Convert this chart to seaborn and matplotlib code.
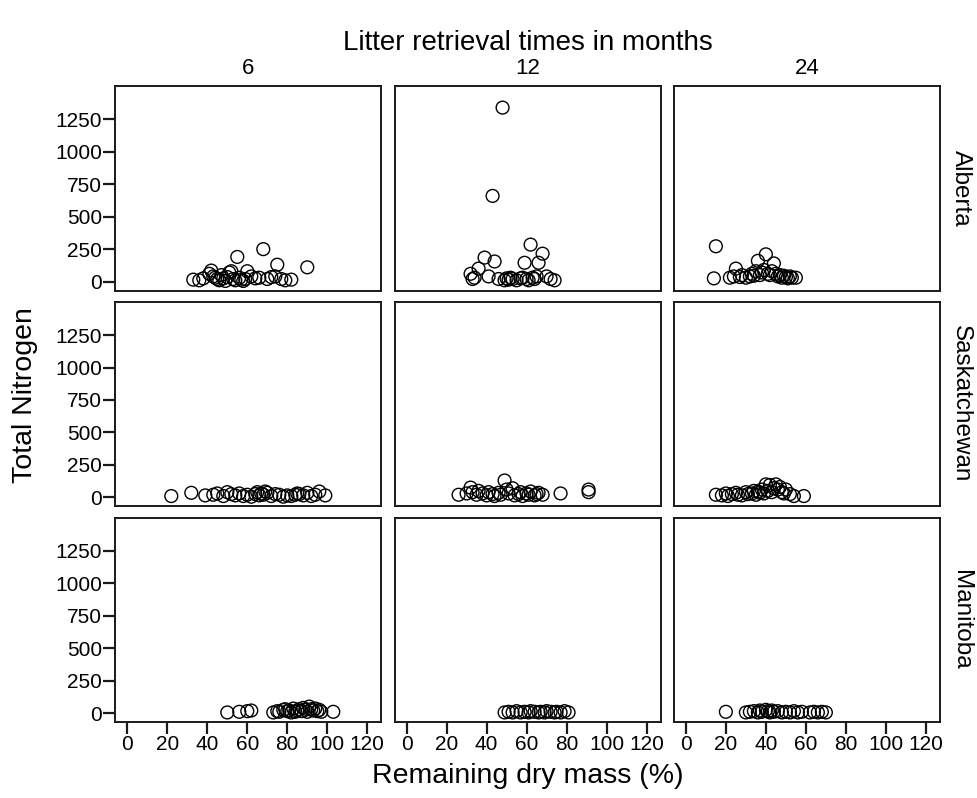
import matplotlib
matplotlib.use("Agg")
import matplotlib.pyplot as plt
import numpy as np
import pandas as pd
import seaborn as sns

provinces = ["Alberta", "Saskatchewan", "Manitoba"]
months = ["6", "12", "24"]
x_ticks = [0, 20, 40, 60, 80, 100, 120]
y_ticks = [0, 250, 500, 750, 1000, 1250]

ab6_mass = [33, 36, 38, 41, 42, 43, 44, 45, 46, 47, 48, 49, 50, 51, 52, 53, 54, 55, 56, 57,
            58, 59, 60, 62, 64, 66, 68, 70, 72, 74, 75, 77, 79, 82, 90]
ab6_n = [15, 10, 25, 60, 85, 40, 30, 20, 10, 50, 25, 5, 35, 70, 80, 20, 10, 190, 30, 15,
         5, 20, 80, 40, 25, 30, 250, 20, 35, 40, 130, 20, 10, 15, 110]

ab12_mass = [32, 33, 34, 36, 39, 41, 43, 44, 46, 48, 49, 50, 51, 52, 53, 55, 57, 58, 59, 60,
             61, 62, 63, 64, 65, 66, 68, 70, 72, 74]
ab12_n = [60, 20, 30, 100, 185, 40, 660, 155, 20, 1340, 10, 25, 15, 30, 20, 10, 25, 30, 145, 20,
          10, 285, 30, 20, 40, 145, 215, 40, 20, 10]

ab24_mass = [14, 15, 22, 24, 25, 27, 28, 30, 32, 33, 34, 35, 36, 37, 38, 39, 40, 41, 42, 43,
             44, 45, 46, 47, 48, 49, 50, 51, 52, 53, 55]
ab24_n = [25, 272, 30, 40, 100, 35, 50, 30, 40, 60, 45, 80, 160, 50, 70, 90, 210, 60, 50, 80,
          140, 60, 40, 50, 30, 45, 35, 25, 40, 30, 30]

sk6_mass = [22, 32, 39, 43, 45, 48, 50, 52, 54, 56, 58, 60, 62, 64, 65, 66, 67, 68, 69, 70,
            72, 74, 76, 78, 80, 82, 84, 85, 86, 88, 90, 92, 94, 96, 99]
sk6_n = [10, 35, 15, 20, 30, 10, 40, 25, 15, 30, 10, 20, 5, 25, 40, 15, 30, 20, 45, 35,
         10, 25, 20, 5, 15, 10, 20, 30, 25, 15, 35, 10, 20, 45, 15]

sk12_mass = [26, 30, 32, 33, 35, 36, 38, 40, 41, 43, 44, 46, 47, 49, 50, 51, 53, 54, 56, 57,
             58, 60, 61, 62, 64, 65, 66, 68, 77, 91, 91]
sk12_n = [20, 30, 75, 40, 20, 50, 30, 15, 40, 25, 10, 35, 20, 130, 60, 30, 70, 15, 25, 40,
          10, 30, 20, 45, 15, 25, 35, 20, 30, 40, 60]

sk24_mass = [15, 18, 20, 21, 23, 25, 26, 28, 30, 31, 33, 34, 35, 36, 37, 38, 39, 40, 41, 42,
             43, 44, 45, 46, 47, 48, 49, 50, 52, 54, 59]
sk24_n = [20, 15, 30, 10, 25, 35, 20, 15, 40, 25, 30, 50, 20, 45, 35, 60, 30, 100, 50, 95,
          40, 70, 100, 60, 80, 40, 30, 60, 25, 10, 10]

mb6_mass = [50, 56, 60, 62, 73, 75, 76, 78, 79, 80, 81, 82, 83, 84, 85, 86, 87, 88, 89, 90,
            91, 92, 93, 94, 95, 96, 97, 103]
mb6_n = [5, 10, 15, 20, 5, 15, 10, 25, 30, 15, 20, 5, 35, 10, 20, 30, 15, 40, 25, 10,
         50, 30, 20, 35, 15, 25, 10, 10]

mb12_mass = [49, 51, 53, 55, 57, 59, 61, 62, 64, 66, 67, 69, 70, 72, 74, 75, 77, 79, 81]
mb12_n = [5, 10, 5, 15, 5, 10, 5, 15, 10, 5, 10, 5, 15, 10, 5, 10, 5, 15, 5]

mb24_mass = [20, 30, 32, 34, 36, 37, 38, 40, 41, 42, 43, 44, 46, 48, 50, 52, 54, 56, 58, 62,
             64, 66, 68, 70]
mb24_n = [10, 5, 10, 15, 5, 20, 10, 25, 15, 5, 20, 10, 15, 5, 10, 5, 15, 5, 10, 5,
          10, 5, 10, 5]

panels = {
    ("Alberta", "6"): (ab6_mass, ab6_n),
    ("Alberta", "12"): (ab12_mass, ab12_n),
    ("Alberta", "24"): (ab24_mass, ab24_n),
    ("Saskatchewan", "6"): (sk6_mass, sk6_n),
    ("Saskatchewan", "12"): (sk12_mass, sk12_n),
    ("Saskatchewan", "24"): (sk24_mass, sk24_n),
    ("Manitoba", "6"): (mb6_mass, mb6_n),
    ("Manitoba", "12"): (mb12_mass, mb12_n),
    ("Manitoba", "24"): (mb24_mass, mb24_n),
}

records = []
for (prov, mon), (xs, ys) in panels.items():
    for xv, yv in zip(xs, ys):
        records.append({"province": prov, "month": mon, "mass": xv, "nitrogen": yv})
df = pd.DataFrame(records)

sns.set_style("ticks")
plt.rcParams["font.family"] = ["Liberation Sans", "DejaVu Sans"]
plt.rcParams["text.color"] = "black"
plt.rcParams["axes.edgecolor"] = "#1a1a1a"
plt.rcParams["axes.linewidth"] = 1.4
plt.rcParams["xtick.color"] = "#1a1a1a"
plt.rcParams["ytick.color"] = "#1a1a1a"

g = sns.FacetGrid(df, row="province", col="month", row_order=provinces, col_order=months,
                  margin_titles=True, despine=False, sharex=True, sharey=True,
                  height=2.6, aspect=1.3)
g.map_dataframe(sns.scatterplot, x="mass", y="nitrogen", s=85, facecolors="none",
                edgecolor="black", linewidth=1.0)

g.set(xlim=(-6, 127), ylim=(-70, 1505), xticks=x_ticks, yticks=y_ticks)
g.set_axis_labels("", "")
g.set_titles(col_template="{col_name}", row_template="{row_name}")

fig = g.figure
fig.set_size_inches(9.77, 7.98)
fig.subplots_adjust(left=0.118, right=0.962, top=0.892, bottom=0.095,
                    wspace=0.05, hspace=0.055)

nrow, ncol = g.axes.shape
for i in range(nrow):
    for j in range(ncol):
        ax = g.axes[i, j]
        ax.tick_params(axis="both", direction="out", length=8.5, width=1.6, labelsize=15,
                       labelcolor="black", pad=1)
        if j > 0:
            ax.tick_params(axis="y", left=False, labelleft=False)
        if i < nrow - 1:
            ax.tick_params(axis="x", bottom=False, labelbottom=False)
        if i == 0:
            ax.set_title(months[j], fontsize=16, pad=9, color="black")
        else:
            ax.set_title("")

for i, ax in enumerate(g.axes[:, -1]):
    for t in list(ax.texts):
        t.remove()
    ax.text(1.079, 0.5, provinces[i], transform=ax.transAxes, rotation=270,
            ha="center", va="center", fontsize=17.5)

fig.text(0.54, 0.946, "Litter retrieval times in months", ha="center", va="center",
         fontsize=20)
fig.text(0.026, 0.505, "Total Nitrogen", rotation=90, ha="center", va="center", fontsize=20.5)
fig.text(0.54, 0.028, "Remaining dry mass (%)", ha="center", va="center", fontsize=20.5)

fig.savefig("out.png", dpi=100)
